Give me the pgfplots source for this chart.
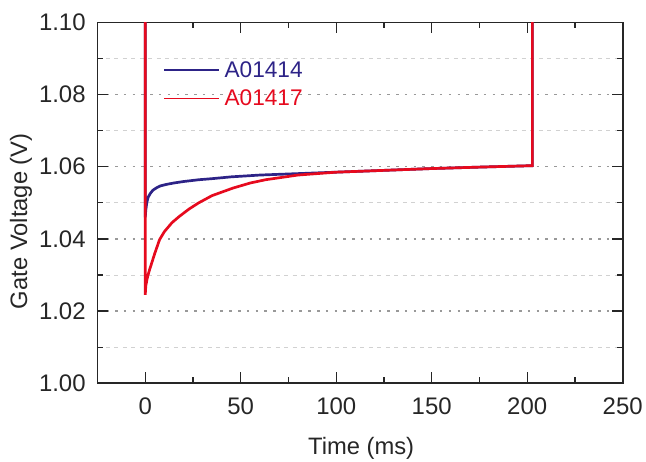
\documentclass[border=0pt]{standalone}
\usepackage{pgfplots}
\pgfplotsset{compat=1.18}
\usepackage{fontspec}
\setmainfont{Liberation Sans}
\definecolor{cblue}{RGB}{45,35,135}
\definecolor{cred}{RGB}{230,10,30}
\begin{document}
\begin{tikzpicture}
\begin{axis}[
  name=ax,
  scale only axis,
  width=526.3bp, height=361.5bp,
  xmin=-25, xmax=250, ymin=1.00, ymax=1.10,
  xtick={0,50,100,150,200,250},
  ytick={1.00,1.02,1.04,1.06,1.08,1.10},
  minor x tick num=1, minor y tick num=1,
  tick align=inside,
  major tick length=11bp, minor tick length=6bp,
  axis line style={line width=1.6bp, black!85},
  every tick/.style={line width=1.4bp, black!85},
  every minor tick/.style={line width=1.2bp, black!85},
  ymajorgrids, yminorgrids,
  major grid style={dash pattern=on 2.5bp off 6.3bp, line width=1.3bp, black!40},
  minor grid style={dash pattern=on 4bp off 4.5bp, line width=0.9bp, black!18},
  /pgf/number format/assume math mode=true,
  yticklabel style={/pgf/number format/fixed, /pgf/number format/fixed zerofill, /pgf/number format/precision=2},
  tick label style={font=\fontsize{24bp}{28bp}\selectfont, text=black!85},
  xticklabel style={anchor=base, yshift=-31bp},
  yticklabel style={anchor=east, inner sep=0pt, xshift=-11.7bp},
  label style={font=\fontsize{23.8bp}{28bp}\selectfont, text=black!85},
  xlabel={Time (ms)},
  ylabel={Gate Voltage (V)},
  xlabel style={at={(axis description cs:0.502,-0.198)}, anchor=base, inner sep=0pt},
  ylabel style={at={(axis description cs:-0.1457,0.449)}, anchor=center, inner sep=0pt},
  legend style={draw=none, fill=none, at={(0.1253,0.898)}, anchor=north west,
    font=\fontsize{22.7bp}{26bp}\selectfont, row sep=7bp, column sep=2.6bp, inner sep=0pt},
  legend cell align=left,
  legend image code/.code={\draw[#1, line width=1.6bp] (0bp,0bp) -- (55bp,0bp);},
  clip=true,
]
\addplot[cblue, line width=2.7bp] coordinates {
(0,1.2) (0,1.046) (0.3,1.048) (0.8,1.050) (1.5,1.0515) (2.5,1.0525) (4,1.0535)
(6,1.0542) (8,1.0547) (11,1.0551) (15,1.0555) (20,1.0559) (28,1.0564) (35,1.0567)
(45,1.0572) (60,1.0577) (80,1.0581) (100,1.0585) (125,1.0590) (150,1.0595)
(175,1.0599) (202.7,1.0603) (202.7,1.2)
};
\addlegendentry{\textcolor{cblue}{A01414}}
\addplot[cred, line width=2.7bp] coordinates {
(0,1.2) (0,1.0245) (0.3,1.027) (1,1.029) (2,1.031) (3.5,1.0335) (5,1.036)
(7.5,1.0398) (10,1.042) (14,1.0445) (18,1.0463) (23,1.0483) (28,1.050) (35,1.052)
(46,1.0541) (55,1.0555) (63,1.0564) (80,1.0577) (100,1.0585) (125,1.0590)
(150,1.0595) (175,1.0599) (202.7,1.0603) (202.7,1.2)
};
\addlegendentry{\textcolor{cred}{A01417}}
\end{axis}
\path (ax.south west) ++(-97.7bp,-78bp) coordinate (bl);
\path (ax.north east) ++(22bp,22.5bp) coordinate (tr);
\path (bl) rectangle (tr);
\end{tikzpicture}
\end{document}
